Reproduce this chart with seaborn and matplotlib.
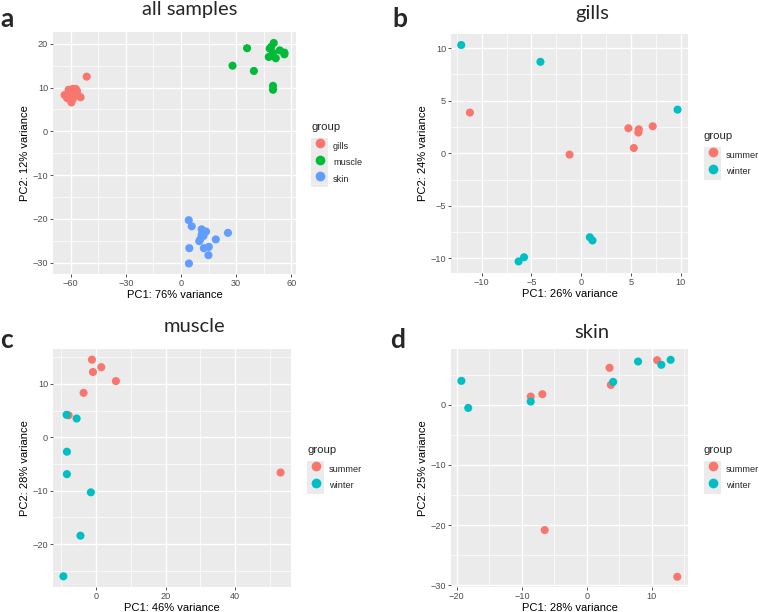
import matplotlib
matplotlib.use("Agg")
import matplotlib.pyplot as plt
import seaborn as sns
import pandas as pd
from matplotlib.ticker import FixedLocator
from matplotlib.patches import Rectangle
from matplotlib.lines import Line2D
from matplotlib.legend_handler import HandlerTuple

# ----- data -----
all_gills_pc1 = [-51.3, -63.3, -61.1, -58.9, -57.3, -59.6, -54.6, -56.2, -60.2, -58.0, -62.0, -58.7, -56.6, -59.8]
all_gills_pc2 = [12.5, 8.3, 9.5, 9.7, 9.7, 6.6, 7.8, 8.4, 8.1, 8.8, 7.6, 7.5, 9.3, 8.9]
all_muscle_pc1 = [35.9, 28.0, 39.6, 50.4, 48.2, 47.7, 51.5, 53.7, 56.2, 56.2, 50.0, 50.0, 50.0, 49.0]
all_muscle_pc2 = [19.0, 15.0, 13.8, 20.2, 18.9, 17.0, 16.7, 18.5, 18.0, 17.6, 10.4, 9.5, 17.9, 19.3]
all_skin_pc1 = [4.2, 5.8, 25.5, 11.2, 13.6, 12.2, 10.4, 9.9, 18.9, 4.5, 12.4, 15.1, 14.9, 4.3, 11.2]
all_skin_pc2 = [-20.3, -21.7, -23.2, -22.4, -22.9, -23.9, -24.7, -25.1, -24.7, -26.7, -26.7, -26.4, -28.3, -30.2, -23.6]

gills_summer_pc1 = [-11.2, -1.17, 4.75, 5.8, 5.75, 5.3, 7.2]
gills_summer_pc2 = [3.87, -0.13, 2.38, 2.28, 1.97, 0.5, 2.57]
gills_winter_pc1 = [-12.07, -4.1, 9.7, -6.3, -5.75, 0.87, 1.14]
gills_winter_pc2 = [10.3, 8.7, 4.15, -10.3, -9.9, -8.0, -8.3]

muscle_summer_pc1 = [-1.2, -0.9, 1.5, 5.7, -3.6, -7.9, 53.1]
muscle_summer_pc2 = [14.5, 12.2, 13.1, 10.5, 8.3, 4.1, -6.6]
muscle_winter_pc1 = [-8.5, -5.6, -8.4, -8.4, -1.5, -4.5, -9.4]
muscle_winter_pc2 = [4.2, 3.5, -2.7, -6.9, -10.3, -18.4, -26.0]

skin_summer_pc1 = [10.8, 3.48, 3.68, -8.64, -6.85, -6.49, 13.9]
skin_summer_pc2 = [7.44, 6.17, 3.33, 1.39, 1.78, -20.83, -28.6]
skin_winter_pc1 = [-19.3, -18.25, -8.64, 4.04, 7.87, 11.45, 12.88]
skin_winter_pc2 = [4.0, -0.5, 0.56, 3.83, 7.22, 6.67, 7.5]

tissue_colors = {"gills": "#F8766D", "muscle": "#00BA38", "skin": "#619CFF"}
season_colors = {"summer": "#F8766D", "winter": "#00BFC4"}

# ----- style -----
sns.set_theme(style="darkgrid", rc={
    "axes.facecolor": "#EBEBEB",
    "grid.color": "white",
    "axes.edgecolor": "none",
    "xtick.bottom": True,
    "ytick.left": True,
    "xtick.color": "#333333",
    "ytick.color": "#333333",
    "xtick.labelcolor": "#4D4D4D",
    "ytick.labelcolor": "#4D4D4D",
    "xtick.major.size": 2.0,
    "ytick.major.size": 2.0,
    "xtick.major.width": 0.6,
    "ytick.major.width": 0.6,
    "xtick.major.pad": 1.5,
    "ytick.major.pad": 1.5,
    "xtick.labelsize": 6.6,
    "ytick.labelsize": 6.6,
    "axes.labelsize": 8,
    "axes.labelcolor": "black",
})
plt.rcParams["font.family"] = ["Liberation Sans", "DejaVu Sans"]


def frame(names, xs, ys):
    rows = []
    for name, x, y in zip(names, xs, ys):
        rows.append(pd.DataFrame({"pc1": x, "pc2": y, "group": name}))
    return pd.concat(rows, ignore_index=True)


def draw_panel(ax, df, palette, xlim, ylim, xmaj, xmin, ymaj, ymin, xlabel, ylabel):
    sns.scatterplot(data=df, x="pc1", y="pc2", hue="group", palette=palette,
                    s=34, linewidth=0, alpha=1, ax=ax, legend=False, zorder=3)
    ax.set_xlim(xlim)
    ax.set_ylim(ylim)
    ax.xaxis.set_major_locator(FixedLocator(xmaj))
    ax.xaxis.set_minor_locator(FixedLocator(xmin))
    ax.yaxis.set_major_locator(FixedLocator(ymaj))
    ax.yaxis.set_minor_locator(FixedLocator(ymin))
    ax.grid(which="major", color="white", linewidth=1.0)
    ax.grid(which="minor", color="white", linewidth=0.5)
    ax.tick_params(which="minor", length=0)
    ax.set_axisbelow(True)
    ax.set_xlabel(xlabel, labelpad=1.5)
    ax.set_ylabel(ylabel, labelpad=2)


def add_legend(fig, ax, palette, x, y):
    handles = [(Rectangle((0, 0), 1, 1, facecolor="#EBEBEB", edgecolor="none"),
                Line2D([], [], marker="o", linestyle="", markersize=7,
                       markerfacecolor=c, markeredgewidth=0))
               for c in palette.values()]
    leg = ax.legend(handles, list(palette.keys()),
                    handler_map={tuple: HandlerTuple(ndivide=1, pad=0)},
                    title="group", frameon=False, loc="upper left",
                    bbox_to_anchor=(x / 759, 1 - y / 612), bbox_transform=fig.transFigure,
                    handlelength=1.9, handleheight=2.4, handletextpad=0.5,
                    labelspacing=0, borderpad=0, borderaxespad=0,
                    fontsize=6.6, title_fontsize=8.2, alignment="left")
    # a little room between the title and the keys, like ggplot
    leg._legend_box.sep = 4
    return leg


fig = plt.figure(figsize=(7.59, 6.12), dpi=100)

ax_a = fig.add_axes([53 / 759, 1 - 274 / 612, 243 / 759, 242 / 612])
ax_b = fig.add_axes([451 / 759, 1 - 273 / 612, 237 / 759, 239 / 612])
ax_c = fig.add_axes([53 / 759, 1 - 587 / 612, 238 / 759, 238 / 612])
ax_d = fig.add_axes([451 / 759, 1 - 587 / 612, 237 / 759, 238 / 612])

df_a = frame(["gills", "muscle", "skin"],
             [all_gills_pc1, all_muscle_pc1, all_skin_pc1],
             [all_gills_pc2, all_muscle_pc2, all_skin_pc2])
df_b = frame(["summer", "winter"], [gills_summer_pc1, gills_winter_pc1], [gills_summer_pc2, gills_winter_pc2])
df_c = frame(["summer", "winter"], [muscle_summer_pc1, muscle_winter_pc1], [muscle_summer_pc2, muscle_winter_pc2])
df_d = frame(["summer", "winter"], [skin_summer_pc1, skin_winter_pc1], [skin_summer_pc2, skin_winter_pc2])

draw_panel(ax_a, df_a, tissue_colors, (-69.6, 62.5), (-32.6, 22.7),
           [-60, -30, 0, 30, 60], [-45, -15, 15, 45], [-30, -20, -10, 0, 10, 20],
           [-25, -15, -5, 5, 15], "PC1: 76% variance", "PC2: 12% variance")
draw_panel(ax_b, df_b, season_colors, (-13.1, 10.75), (-11.4, 11.35),
           [-10, -5, 0, 5, 10], [-12.5, -7.5, -2.5, 2.5, 7.5], [-10, -5, 0, 5, 10],
           [-7.5, -2.5, 2.5, 7.5], "PC1: 26% variance", "PC2: 24% variance")
draw_panel(ax_c, df_c, season_colors, (-12.4, 56.1), (-28.0, 16.5),
           [0, 20, 40], [-10, 10, 30, 50], [-20, -10, 0, 10],
           [-25, -15, -5, 5, 15], "PC1: 46% variance", "PC2: 28% variance")
draw_panel(ax_d, df_d, season_colors, (-20.9, 15.55), (-30.3, 9.3),
           [-20, -10, 0, 10], [-15, -5, 5, 15], [-30, -20, -10, 0],
           [-25, -15, -5, 5], "PC1: 28% variance", "PC2: 25% variance")

add_legend(fig, ax_a, tissue_colors, 311, 122)
add_legend(fig, ax_b, season_colors, 704, 131)
add_legend(fig, ax_c, season_colors, 307, 445)
add_legend(fig, ax_d, season_colors, 704, 445)

# titles and panel letters
title_font = ["Lato", "DejaVu Sans"]
for x, y, text in [(190, 10, "all samples"), (592, 14, "gills"),
                   (194, 327, "muscle"), (592, 332, "skin")]:
    fig.text(x / 759, 1 - y / 612, text, ha="center", va="center",
             fontsize=14.5, family=title_font)
for x, y, letter in [(0, 27, "a"), (392, 27, "b"), (0, 348, "c"), (390, 348, "d")]:
    fig.text(x / 759, 1 - y / 612, letter, ha="left", va="baseline",
             fontsize=19, fontweight="bold", family=title_font)

fig.savefig("out.png", dpi=100)
